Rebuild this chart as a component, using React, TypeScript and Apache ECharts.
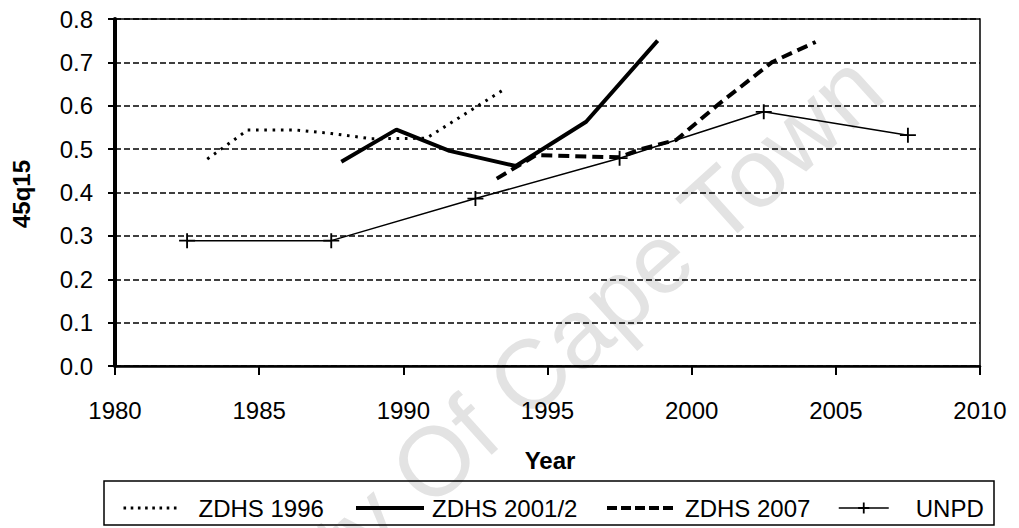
import React, { useEffect, useRef } from "react";
import * as echarts from "echarts";

const seriesNames = ["ZDHS 1996", "ZDHS 2001/2", "ZDHS 2007", "UNPD"];

const zdhs1996Years = [1983.2, 1984.6, 1986.3, 1987.5, 1988.9, 1990.8, 1993.5];
const zdhs1996Values = [0.477, 0.544, 0.544, 0.536, 0.524, 0.525, 0.638];

const zdhs2001Years = [1987.85, 1989.76, 1991.6, 1993.9, 1996.34, 1998.82];
const zdhs2001Values = [0.471, 0.545, 0.496, 0.461, 0.563, 0.75];

const zdhs2007Years = [1993.24, 1994.6, 1997.49, 1998.19, 1999.46, 2000.96, 2002.8, 2004.3];
const zdhs2007Values = [0.432, 0.486, 0.481, 0.499, 0.521, 0.605, 0.701, 0.747];

const unpdYears = [1982.5, 1987.5, 1992.5, 1997.5, 2002.5, 2007.5];
const unpdValues = [0.289, 0.289, 0.386, 0.479, 0.586, 0.532];

const xMin = 1980;
const xMax = 2010;
const xStep = 5;
const yMin = 0;
const yMax = 0.8;
const yStep = 0.1;

const xTitle = "Year";
const yTitle = "45q15";
const watermark = "University Of Cape Town";

const FONT = "'Liberation Sans', Arial, sans-serif";

const pair = (xs: number[], ys: number[]) => xs.map((x, i) => [x, ys[i]]);

const PLUS = "path://M8,0L8,16M0,8L16,8";

export default function App() {
  const ref = useRef<HTMLDivElement>(null);

  useEffect(() => {
    if (!ref.current) return;
    const chart = echarts.init(ref.current, undefined, { renderer: "svg" });

    const legendBase = (
      name: string,
      left: number,
      itemWidth: number,
      pad: number,
      hideSymbol: boolean,
      lineStyle: any
    ) => ({
      data: [name],
      left,
      top: 496,
      padding: 0,
      itemWidth,
      itemHeight: 14,
      selectedMode: false,
      itemStyle: hideSymbol ? { opacity: 0 } : { color: "#000", borderColor: "#000", borderWidth: 1.8 },
      lineStyle: { color: "#000", ...lineStyle },
      textStyle: { fontSize: 24, fontFamily: FONT, color: "#000", padding: [0, 0, 0, pad] },
    });

    chart.setOption({
      animation: false,
      backgroundColor: "#fff",
      grid: {
        left: 115,
        right: 39,
        top: 19,
        bottom: 162,
        show: true,
        borderColor: "#000",
        borderWidth: 1.5,
        backgroundColor: "transparent",
        containLabel: false,
        outerBoundsMode: "none",
      },
      xAxis: {
        type: "value",
        min: xMin,
        max: xMax,
        interval: xStep,
        axisLine: { show: true, onZero: false, lineStyle: { color: "#000", width: 2.5 } },
        axisTick: { show: true, inside: false, length: 9, lineStyle: { color: "#000", width: 2 } },
        axisLabel: { color: "#000", fontSize: 24, fontFamily: FONT, margin: 32, formatter: (v: number) => String(v) },
        splitLine: { show: false },
      },
      yAxis: {
        type: "value",
        min: yMin,
        max: yMax,
        interval: yStep,
        axisLine: { show: true, onZero: false, lineStyle: { color: "#000", width: 4 } },
        axisTick: { show: true, inside: false, length: 7, lineStyle: { color: "#000", width: 2 } },
        axisLabel: { color: "#000", fontSize: 24, fontFamily: FONT, margin: 22, formatter: (v: number) => v.toFixed(1) },
        splitLine: { show: true, lineStyle: { color: "#000", width: 1.5, type: [6, 3] } },
      },
      legend: [
        legendBase(seriesNames[0], 122, 55, 15, true, { width: 3, type: [2.6, 4.6] }),
        legendBase(seriesNames[1], 354, 68, 3, true, { width: 4, type: "solid" }),
        legendBase(seriesNames[2], 605, 70, 3, true, { width: 4, type: [10, 4] }),
        legendBase(seriesNames[3], 838, 50, 22, false, { width: 1.5, type: "solid" }),
      ],
      graphic: [
        {
          type: "text",
          z: -1,
          x: 466,
          y: 432,
          rotation: (42 * Math.PI) / 180,
          silent: true,
          style: {
            text: watermark,
            fill: "#e3e3e3",
            font: `98px ${FONT}`,
            align: "center",
            verticalAlign: "middle",
          },
        },
        {
          type: "rect",
          z: 10,
          shape: { x: 104, y: 481, width: 890, height: 44 },
          style: { fill: "none", stroke: "#000", lineWidth: 1.5 },
          silent: true,
        },
        {
          type: "text",
          x: 550,
          y: 460,
          style: { text: xTitle, font: `bold 24px ${FONT}`, fill: "#000", align: "center", verticalAlign: "middle" },
        },
        {
          type: "text",
          x: 21,
          y: 194,
          rotation: Math.PI / 2,
          style: { text: yTitle, font: `bold 24px ${FONT}`, fill: "#000", align: "center", verticalAlign: "middle" },
        },
      ],
      series: [
        {
          name: seriesNames[0],
          type: "line",
          data: pair(zdhs1996Years, zdhs1996Values),
          symbol: "none",
          lineStyle: { color: "#000", width: 3, type: [2.6, 5.7] },
          itemStyle: { color: "#000" },
        },
        {
          name: seriesNames[1],
          type: "line",
          data: pair(zdhs2001Years, zdhs2001Values),
          symbol: "none",
          lineStyle: { color: "#000", width: 4 },
          itemStyle: { color: "#000" },
        },
        {
          name: seriesNames[2],
          type: "line",
          data: pair(zdhs2007Years, zdhs2007Values),
          symbol: "none",
          lineStyle: { color: "#000", width: 4, type: [11, 6] },
          itemStyle: { color: "#000" },
        },
        {
          name: seriesNames[3],
          type: "line",
          data: pair(unpdYears, unpdValues),
          symbol: PLUS,
          symbolSize: [16, 15],
          lineStyle: { color: "#000", width: 1.5 },
          itemStyle: { color: "#000", borderColor: "#000", borderWidth: 1.8 },
        },
      ],
    });

    return () => chart.dispose();
  }, []);

  return <div ref={ref} style={{ width: 1019, height: 528, position: "absolute", left: 0, top: 0 }} />;
}
